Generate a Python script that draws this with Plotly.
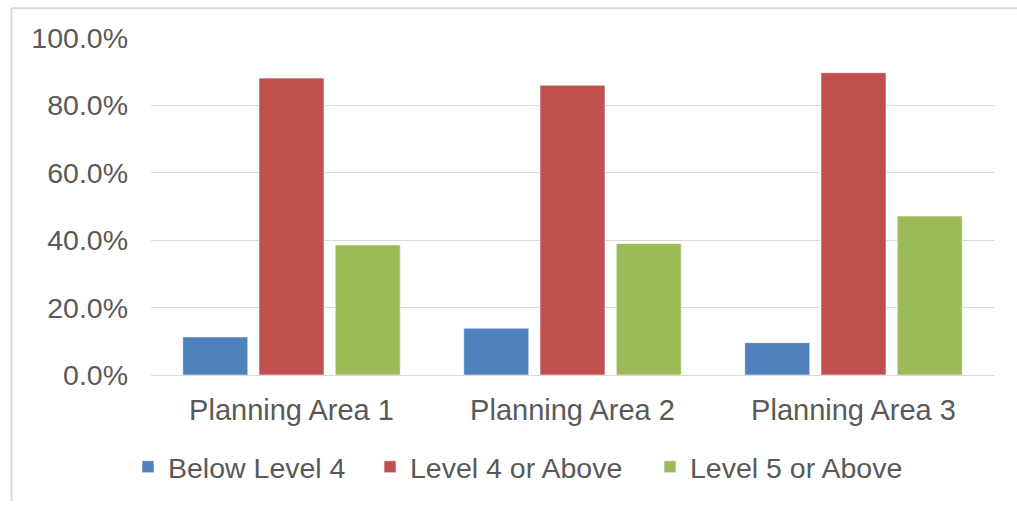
import plotly.graph_objects as go

categories = ["Planning Area 1", "Planning Area 2", "Planning Area 3"]
below_level_4 = [0.113, 0.139, 0.096]
level_4_or_above = [0.881, 0.860, 0.897]
level_5_or_above = [0.386, 0.390, 0.472]
series_names = ["Below Level 4", "Level 4 or Above", "Level 5 or Above"]
colors = ["#4F81BD", "#C0504D", "#9BBB59"]

FONT = "Liberation Sans, Arial, sans-serif"
TXT = "#595959"

W, H = 1017, 505
L, R, T, B = 151, 23, 38, 127
pw = W - L - R
ph = H - T - B

def px_x(x):
    return (x - L) / pw

def px_y(y):
    return (H - B - y) / ph

legend_ids = ["legend", "legend2", "legend3"]
legend_px = [128, 370, 650]

fig = go.Figure()
for name, vals, col, lid in zip(series_names, [below_level_4, level_4_or_above, level_5_or_above], colors, legend_ids):
    fig.add_trace(go.Bar(
        x=categories, y=vals, name=name, legend=lid,
        marker=dict(color=col, line=dict(color="rgba(255,255,255,0.6)", width=1)),
    ))

legend_layout = {}
for lid, lx in zip(legend_ids, legend_px):
    legend_layout[lid] = dict(
        orientation="h", x=px_x(lx), y=px_y(471), xanchor="left", yanchor="middle",
        font=dict(family=FONT, size=28.5, color=TXT),
        itemwidth=30, bgcolor="rgba(0,0,0,0)", borderwidth=0,
    )

fig.update_layout(
    width=W, height=H,
    margin=dict(l=L, r=R, t=T, b=B, pad=0),
    paper_bgcolor="white", plot_bgcolor="white",
    barmode="group", bargap=0.186, bargroupgap=0.147,
    font=dict(family=FONT, size=28.5, color=TXT),
    showlegend=True,
    xaxis=dict(
        showgrid=False, showline=False, ticks="", zeroline=False,
        tickfont=dict(family=FONT, size=29, color=TXT),
        ticklabelstandoff=15,
    ),
    yaxis=dict(
        range=[0, 1], dtick=0.2, tick0=0, tickformat=".1%",
        showgrid=True, gridcolor="#D9D9D9", gridwidth=1,
        zeroline=True, zerolinecolor="#D9D9D9", zerolinewidth=1,
        showline=False, ticks="",
        tickfont=dict(family=FONT, size=28.5, color=TXT),
        ticklabelstandoff=22,
    ),
    shapes=[
        dict(type="line", xref="paper", yref="paper",
             x0=px_x(11.5), x1=px_x(1017), y0=px_y(8), y1=px_y(8),
             line=dict(color="#D9D9D9", width=2)),
        dict(type="line", xref="paper", yref="paper",
             x0=px_x(11.5), x1=px_x(11.5), y0=px_y(8), y1=px_y(505),
             line=dict(color="#D9D9D9", width=2)),
    ],
    **legend_layout,
)

fig.write_html(
    "out.html",
    config={"displayModeBar": False},
    post_script="document.body.style.margin='0';document.body.style.overflow='hidden';",
)
